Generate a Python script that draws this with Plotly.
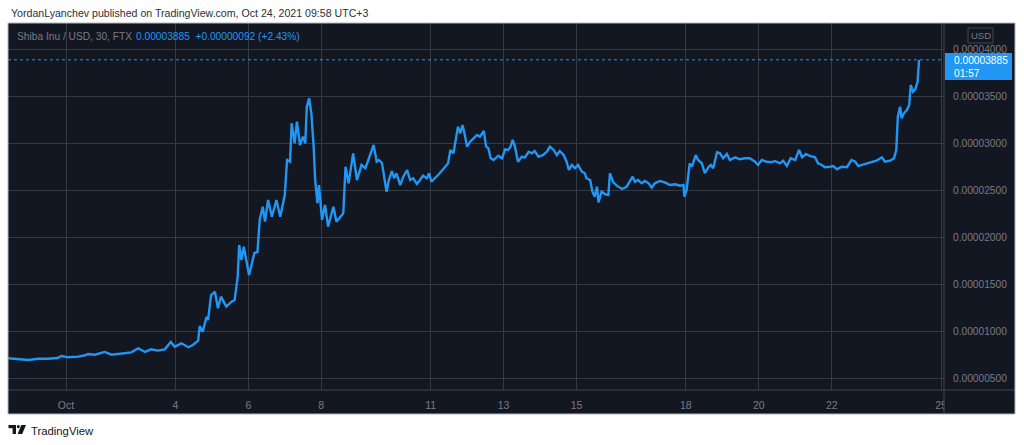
import plotly.graph_objects as go
import pandas as pd

# ---- data ----
# time of each 30-min bar, hours after 2021-10-01 00:00 (UTC+3)
hours_from_oct1 = [
    -38, -31.5, -25, -18.5, -12, -5.5, -3, 1.5, 8, 12.5,
    14.5, 19, 25.5, 30, 36.5, 43, 47.5, 52, 56, 60.5,
    65, 69, 71.5, 76, 80.5, 83.5, 87, 88, 90, 92.5,
    93.5, 95.5, 98, 100, 102, 105.5, 109, 111, 113, 114,
    115.5, 117, 120.5, 124, 126, 127.5, 129.5, 131, 133, 135.5,
    138.5, 141, 144, 145.5, 147.5, 148.5, 150.5, 152, 154, 156,
    157.5, 158.5, 160, 161.5, 163, 164, 165.5, 166.5, 168.5, 170.5,
    172.5, 176, 178, 180.5, 182.5, 184, 186, 189, 191.5, 194.5,
    197, 199, 202.5, 204.5, 206, 208, 209.5, 211, 212.5, 214.5,
    216, 217.5, 220, 222, 224.5, 226.5, 228.5, 231, 233, 235,
    237.5, 239, 240.5, 244, 246, 249, 251.5, 253, 255, 256.5,
    258, 259.5, 261, 262.5, 264, 266, 268, 270.5, 272.5, 275,
    276.5, 278, 279.5, 281.5, 284.5, 287, 289, 291, 292.5, 294,
    295.5, 297.5, 300, 302, 304.5, 306.5, 308.5, 311, 314, 316.5,
    318.5, 321, 323, 325, 327.5, 329.5, 331, 333, 335, 337,
    339.5, 341.5, 342.5, 345, 346.5, 348, 349.5, 350.5, 352.5, 355,
    357, 358, 360, 362.5, 366, 369, 371, 373, 374.5, 376.5,
    379, 381, 383.5, 385.5, 387.5, 391, 394.5, 397.5, 401, 404,
    406.5, 407, 408.5, 410.5, 412, 414.5, 416, 418.5, 420.5, 423,
    424.5, 426, 428.5, 430.5, 432.5, 435, 437, 440.5, 443.5, 447,
    450, 453.5, 455.5, 458, 461, 464.5, 466.5, 470, 472, 474.5,
    477, 480, 482.5, 484.5, 487, 489.5, 493, 495, 497.5, 499.5,
    503, 505, 507.5, 510.5, 514, 517, 519.5, 521.5, 525, 528,
    531.5, 533.5, 537, 539, 542.5, 545, 546.5, 547.5, 549, 550,
    551.5, 553.5, 555, 556, 557.5, 559, 560.5, 561.5,
]
# close price in units of 0.00000001 USD
price_e8 = [
    710, 702, 692, 705, 705, 713, 734, 720, 727, 742,
    755, 748, 777, 748, 763, 773, 816, 777, 805, 791,
    805, 883, 833, 869, 827, 851, 897, 1053, 993, 1152,
    1117, 1383, 1418, 1242, 1365, 1259, 1312, 1330, 1578, 1915,
    1755, 1897, 1596, 1830, 1840, 2181, 2322, 2163, 2394, 2216,
    2394, 2216, 2447, 2819, 2801, 3210, 2997, 3227, 2979, 3067,
    2997, 3386, 3476, 3316, 2961, 2606, 2359, 2553, 2181, 2340,
    2110, 2322, 2163, 2216, 2252, 2748, 2571, 2890, 2606, 2766,
    2731, 2819, 2979, 2801, 2819, 2784, 2642, 2482, 2606, 2702,
    2625, 2678, 2553, 2642, 2713, 2606, 2625, 2564, 2606, 2652,
    2625, 2678, 2588, 2642, 2678, 2737, 2784, 2926, 2890, 3032,
    3173, 3103, 3192, 3085, 2961, 3014, 3050, 3085, 3067, 3128,
    2961, 2944, 2837, 2819, 2865, 2837, 2933, 2926, 2957, 3032,
    2961, 2801, 2854, 2844, 2907, 2890, 2915, 2854, 2872, 2907,
    2961, 2926, 2872, 2915, 2872, 2801, 2713, 2766, 2731, 2766,
    2695, 2678, 2625, 2606, 2482, 2429, 2535, 2369, 2482, 2454,
    2447, 2678, 2588, 2546, 2511, 2535, 2588, 2642, 2588, 2606,
    2571, 2596, 2571, 2525, 2571, 2596, 2578, 2553, 2561, 2546,
    2553, 2429, 2500, 2784, 2748, 2872, 2819, 2784, 2678, 2748,
    2766, 2731, 2901, 2890, 2837, 2883, 2819, 2848, 2827, 2837,
    2837, 2801, 2766, 2819, 2801, 2795, 2809, 2784, 2812, 2755,
    2837, 2819, 2926, 2848, 2883, 2862, 2848, 2784, 2766, 2742,
    2748, 2755, 2720, 2748, 2742, 2819, 2801, 2755, 2773, 2784,
    2801, 2812, 2848, 2801, 2812, 2837, 2926, 3280, 3386, 3263,
    3316, 3351, 3404, 3617, 3546, 3571, 3652, 3885,
]
x_tick_dates = ["2021-10-01", "2021-10-04", "2021-10-06", "2021-10-08", "2021-10-11",
                "2021-10-13", "2021-10-15", "2021-10-18", "2021-10-20", "2021-10-22",
                "2021-10-25"]
x_tick_labels = ["Oct", "4", "6", "8", "11", "13", "15", "18", "20", "22", "25"]
y_tick_e8 = [500, 1000, 1500, 2000, 2500, 3000, 3500, 4000]
last_price_e8 = 3885
change_e8 = 92
change_pct = 2.43
countdown = "01:57"
symbol_text = "Shiba Inu / USD, 30, FTX"
published_text = "YordanLyanchev published on TradingView.com, Oct 24, 2021 09:58 UTC+3"

# ---- derived ----
base = pd.Timestamp("2021-10-01 00:00")
times = [base + pd.Timedelta(hours=h) for h in hours_from_oct1]
prices = [p * 1e-8 for p in price_e8]
last_price = last_price_e8 * 1e-8

# ---- layout geometry (pixels) ----
W, H = 1024, 445
L, R, T, B = 8, 944, 23, 390
PANEL_R, PANEL_B = 1015, 414


def px(x):
    return (x - L) / (R - L)


def py(y):
    return (B - y) / (B - T)


BG = "#131722"
GRID = "#363a45"
TXT = "#787b86"
BLUE = "#2196f3"
FONT = "Liberation Sans, Arial, sans-serif"

fig = go.Figure()
fig.add_trace(go.Scatter(
    x=times, y=prices, mode="lines",
    line=dict(color=BLUE, width=2.4, shape="linear"),
    hoverinfo="skip", showlegend=False,
))

shapes = []
# dark panel background
shapes.append(dict(type="rect", xref="paper", yref="paper", layer="below",
                   x0=px(L), x1=px(PANEL_R), y0=py(T), y1=py(PANEL_B),
                   fillcolor=BG, line=dict(width=0)))
# dotted last price line
shapes.append(dict(type="line", xref="paper", yref="y", layer="above",
                   x0=0, x1=1, y0=last_price, y1=last_price,
                   line=dict(color=BLUE, width=1, dash="dot")))
# cover the area right of the plot on the time scale (clips the "25" label)
shapes.append(dict(type="rect", xref="paper", yref="paper", layer="above",
                   x0=px(R + 0.5), x1=px(PANEL_R - 0.5), y0=py(B + 0.5), y1=py(PANEL_B - 0.5),
                   fillcolor=BG, line=dict(width=0)))
# separators
shapes.append(dict(type="line", xref="paper", yref="paper", layer="above",
                   x0=px(R), x1=px(R), y0=py(T), y1=py(PANEL_B),
                   line=dict(color="#434651", width=1)))
shapes.append(dict(type="line", xref="paper", yref="paper", layer="above",
                   x0=px(L), x1=px(PANEL_R), y0=py(B), y1=py(B),
                   line=dict(color="#434651", width=1)))
# panel border
shapes.append(dict(type="rect", xref="paper", yref="paper", layer="above",
                   x0=px(L), x1=px(PANEL_R), y0=py(T), y1=py(PANEL_B),
                   fillcolor="rgba(0,0,0,0)", line=dict(color="#b2b5be", width=1)))
# last price label box
shapes.append(dict(type="rect", xref="paper", yref="paper", layer="above",
                   x0=px(945), x1=px(1012), y0=py(53), y1=py(80),
                   fillcolor=BLUE, line=dict(width=0)))
# USD box
shapes.append(dict(type="rect", xref="paper", yref="paper", layer="above",
                   x0=px(968), x1=px(993), y0=py(28), y1=py(43),
                   fillcolor="rgba(0,0,0,0)", line=dict(color="#434651", width=1)))
# TradingView logo (T + dot + slanted V)
LOGO = "#131722"
shapes.append(dict(type="rect", xref="paper", yref="paper",
                   x0=px(8.5), x1=px(16), y0=py(425), y1=py(428.2),
                   fillcolor=LOGO, line=dict(width=0)))
shapes.append(dict(type="rect", xref="paper", yref="paper",
                   x0=px(12.6), x1=px(16), y0=py(425), y1=py(434),
                   fillcolor=LOGO, line=dict(width=0)))
shapes.append(dict(type="circle", xref="paper", yref="paper",
                   x0=px(16.8), x1=px(19.8), y0=py(425), y1=py(428.2),
                   fillcolor=LOGO, line=dict(width=0)))
shapes.append(dict(type="path", xref="paper", yref="paper",
                   path=f"M {px(21.3)} {py(425)} L {px(26)} {py(425)} L {px(22.2)} {py(434)} "
                        f"L {px(17.6)} {py(434)} Z",
                   fillcolor=LOGO, line=dict(width=0)))

annotations = []


def ann(text, x, y, color, size, xanchor="left", bold=False):
    annotations.append(dict(
        text=f"<b>{text}</b>" if bold else text, xref="paper", yref="paper",
        x=px(x), y=py(y), xanchor=xanchor, yanchor="middle", showarrow=False,
        font=dict(family=FONT, size=size, color=color)))


ann(published_text, 9, 13, "#2a2e39", 10.6)
ann(symbol_text, 15, 36.5, TXT, 10.2)
ann(f"{last_price:.8f}  +{change_e8 * 1e-8:.8f} (+{change_pct:.2f}%)", 134, 36.5, BLUE, 10.2)
ann("USD", 980.5, 35.5, TXT, 9.5, xanchor="center")
ann(f"{last_price:.8f}", 952, 61, "#ffffff", 10.2)
ann(countdown, 952, 73.5, "#ffffff", 10.2)
ann("TradingView", 28.5, 431, "#131722", 11.3)

fig.update_layout(
    width=W, height=H, autosize=False,
    margin=dict(l=L, r=W - R, t=T, b=H - B, pad=0),
    paper_bgcolor="#ffffff", plot_bgcolor=BG,
    showlegend=False, hovermode=False,
    font=dict(family=FONT, color=TXT),
    shapes=shapes, annotations=annotations,
    xaxis=dict(
        type="date",
        range=[base + pd.Timedelta(hours=-38.18), base + pd.Timedelta(hours=577.9)],
        tickmode="array", tickvals=x_tick_dates, ticktext=x_tick_labels,
        showgrid=True, gridcolor=GRID, gridwidth=1,
        zeroline=False, showline=False, ticks="",
        ticklabelstandoff=7,
        tickfont=dict(family=FONT, size=10.5, color=TXT),
        fixedrange=True,
    ),
    yaxis=dict(
        side="right",
        range=[372.3e-8, 4276.6e-8],
        tickmode="array", tickvals=[v * 1e-8 for v in y_tick_e8],
        ticktext=[f"{v * 1e-8:.8f}" for v in y_tick_e8],
        showgrid=True, gridcolor=GRID, gridwidth=1,
        zeroline=False, showline=False, ticks="",
        ticklabelstandoff=8,
        tickfont=dict(family=FONT, size=10.2, color=TXT),
        fixedrange=True,
    ),
)

fig.write_html(
    "out.html",
    config={"displayModeBar": False},
    post_script="document.body.style.margin='0';document.body.style.overflow='hidden';",
)
